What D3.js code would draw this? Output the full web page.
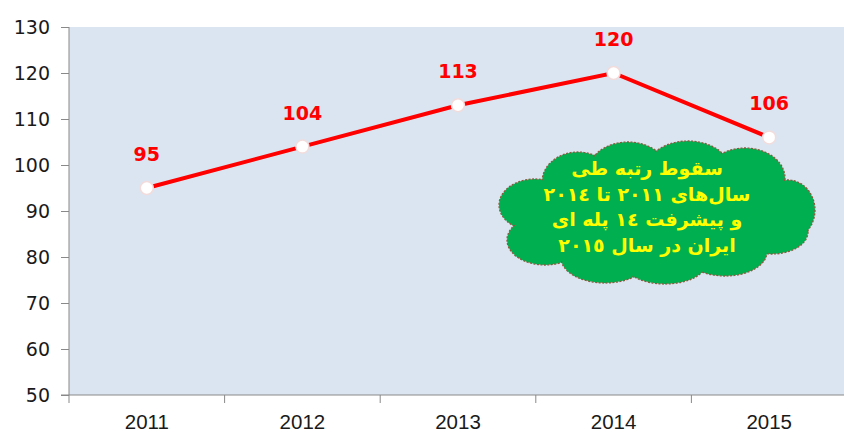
<!DOCTYPE html>
<html>
<head>
<meta charset="utf-8">
<script src="https://cdn.jsdelivr.net/npm/d3@7"></script>
<style>
	body { margin: 0; background: #fff; }
	svg text { font-family: "DejaVu Sans", sans-serif; }
</style>
</head>
<body>
<div class="chart"></div>
<script>
// data
const years = ['2011', '2012', '2013', '2014', '2015'];
const ranks = [95, 104, 113, 120, 106];
const yTicks = [50, 60, 70, 80, 90, 100, 110, 120, 130];
const noteLines = [
	'سقوط رتبه طی',
	'سال‌های ٢٠١١ تا ٢٠١٤',
	'و پیشرفت ١٤ پله ای',
	'ایران در سال ٢٠١٥'
];

const outerW = 844,
	outerH = 435;

const margin = { left: 69, right: -3, top: 27, bottom: 40 };
const w = outerW - margin.left - margin.right,
	h = outerH - margin.top - margin.bottom;

const svg = d3.select('.chart').append('svg')
	.attr('width', outerW)
	.attr('height', outerH);

const g = svg.append('g')
	.attr('transform', `translate(${margin.left}, ${margin.top})`);

const x = d3.scaleBand().domain(years).range([0, w]);
const y = d3.scaleLinear().domain([50, 130]).range([h, 0]);

// plot background
g.append('rect')
	.attr('width', w)
	.attr('height', h)
	.attr('fill', '#dbe5f1');

// y axis
const yAxis = g.append('g')
	.call(d3.axisLeft(y).tickValues(yTicks).tickSize(8).tickPadding(11));
yAxis.selectAll('line, path').attr('stroke', '#898989');
yAxis.select('.domain').attr('d', `M0,0V${h}`);
yAxis.selectAll('text')
	.attr('fill', '#1a1a1a')
	.style('font-size', '19px');

// x axis with ticks on band edges
const xAxis = g.append('g')
	.attr('transform', `translate(0, ${h})`);
xAxis.append('line')
	.attr('x1', -8).attr('x2', w)
	.attr('stroke', '#898989');
xAxis.selectAll('.edge')
	.data(years)
	.enter().append('line')
	.attr('class', 'edge')
	.attr('x1', d => x(d)).attr('x2', d => x(d))
	.attr('y1', 0).attr('y2', 8)
	.attr('stroke', '#898989');
xAxis.selectAll('.lbl')
	.data(years)
	.enter().append('text')
	.attr('class', 'lbl')
	.attr('x', d => x(d) + x.bandwidth() / 2)
	.attr('y', 34)
	.attr('text-anchor', 'middle')
	.attr('fill', '#1a1a1a')
	.style('font-family', '"Liberation Sans", sans-serif')
	.style('font-size', '20.5px')
	.text(d => d);

const pts = years.map((d, i) => ({ year: d, v: ranks[i] }));
const cx = d => x(d.year) + x.bandwidth() / 2;

// line
g.append('path')
	.datum(pts)
	.attr('fill', 'none')
	.attr('stroke', '#ff0000')
	.attr('stroke-width', 4)
	.attr('d', d3.line().x(cx).y(d => y(d.v)));

// markers
g.selectAll('.dot')
	.data(pts)
	.enter().append('circle')
	.attr('class', 'dot')
	.attr('cx', cx)
	.attr('cy', d => y(d.v))
	.attr('r', 6.5)
	.attr('fill', '#fff')
	.attr('stroke', '#f2dcdb')
	.attr('stroke-width', 1.5);

// value labels
g.selectAll('.val')
	.data(pts)
	.enter().append('text')
	.attr('class', 'val')
	.attr('x', cx)
	.attr('y', d => y(d.v) - 27)
	.attr('text-anchor', 'middle')
	.attr('fill', '#ff0000')
	.style('font-weight', 'bold')
	.style('font-size', '19px')
	.text(d => d.v);

// cloud callout
const puffs = [
	[655, 212, 135, 58],
	[578, 182, 36, 30],
	[628, 172, 40, 30],
	[688, 170, 42, 29],
	[745, 178, 40, 30],
	[788, 210, 27, 30],
	[535, 205, 36, 26],
	[545, 240, 38, 25],
	[605, 258, 44, 25],
	[665, 262, 42, 22],
	[725, 252, 42, 24],
	[772, 232, 36, 22]
];
const cloud = svg.append('g');
cloud.selectAll('.puff-o')
	.data(puffs)
	.enter().append('ellipse')
	.attr('cx', d => d[0]).attr('cy', d => d[1])
	.attr('rx', d => d[2]).attr('ry', d => d[3])
	.attr('fill', '#00b050')
	.attr('stroke', '#8b5a3c')
	.attr('stroke-width', 1.3)
	.attr('stroke-dasharray', '2,1.5');
cloud.selectAll('.puff-i')
	.data(puffs)
	.enter().append('ellipse')
	.attr('cx', d => d[0]).attr('cy', d => d[1])
	.attr('rx', d => d[2] - 1.2).attr('ry', d => d[3] - 1.2)
	.attr('fill', '#00b050');

cloud.selectAll('.note')
	.data(noteLines)
	.enter().append('text')
	.attr('x', 647)
	.attr('y', (d, i) => 175 + i * 25.5)
	.attr('text-anchor', 'middle')
	.attr('direction', 'rtl')
	.attr('fill', '#ffff00')
	.style('font-weight', 'bold')
	.style('font-size', '19px')
	.text(d => d);
</script>
</body>
</html>
